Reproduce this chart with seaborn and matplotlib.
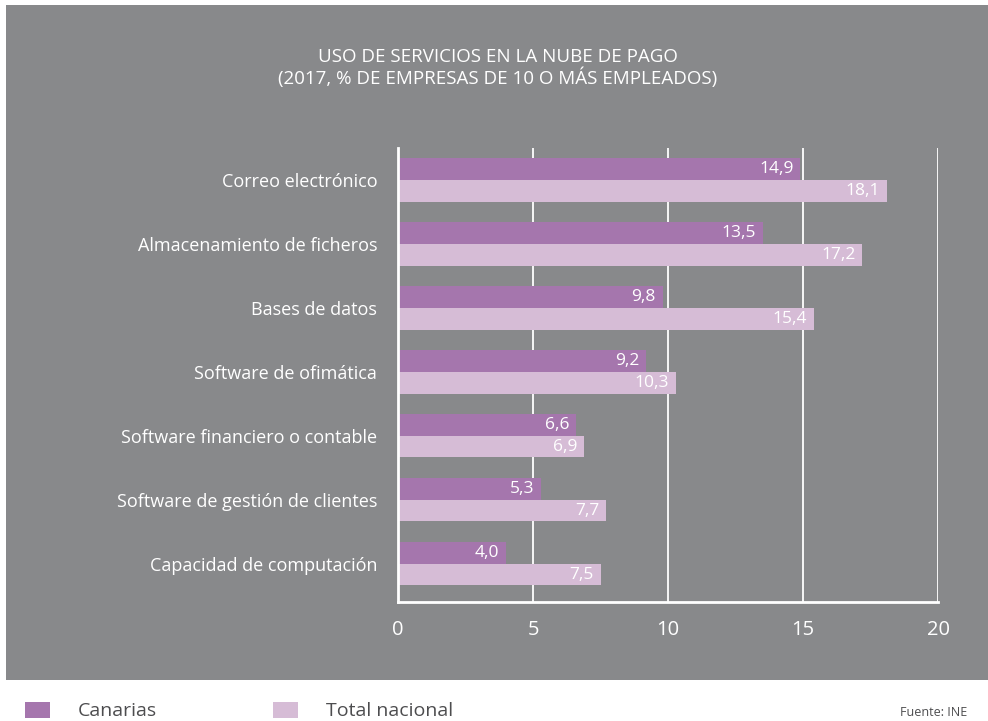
import matplotlib
matplotlib.use("Agg")
import matplotlib.pyplot as plt
from matplotlib.patches import Rectangle
import seaborn as sns
import pandas as pd

categories = [
    "Correo electrónico",
    "Almacenamiento de ficheros",
    "Bases de datos",
    "Software de ofimática",
    "Software financiero o contable",
    "Software de gestión de clientes",
    "Capacidad de computación",
]
canarias = [14.9, 13.5, 9.8, 9.2, 6.6, 5.3, 4.0]
total_nacional = [18.1, 17.2, 15.4, 10.3, 6.9, 7.7, 7.5]
series_names = ["Canarias", "Total nacional"]
x_ticks = [0, 5, 10, 15, 20]

title = "USO DE SERVICIOS EN LA NUBE DE PAGO\n(2017, % DE EMPRESAS DE 10 O MÁS EMPLEADOS)"
source = "Fuente: INE"

panel_gray = "#88898b"
col_canarias = "#a576ad"
col_total = "#d6bcd6"
legend_text = "#4d4d4f"

df = pd.DataFrame({
    "categoria": categories * 2,
    "serie": [series_names[0]] * len(categories) + [series_names[1]] * len(categories),
    "valor": canarias + total_nacional,
})

sns.set_theme(style="white")
plt.rcParams["font.family"] = ["Open Sans", "DejaVu Sans"]

fig = plt.figure(figsize=(9.88, 7.21), dpi=100)
fig.patch.set_facecolor("white")

# grey panel behind the chart
fig.patches.append(Rectangle((6 / 988, 1 - 680 / 721), 982 / 988, 675 / 721,
                             transform=fig.transFigure, facecolor=panel_gray,
                             edgecolor="none", zorder=-1))

ax = fig.add_axes([398 / 988, 1 - 602 / 721, 540 / 988, 454 / 721])
ax.set_facecolor("none")
ax.set_zorder(1)

sns.barplot(data=df, y="categoria", x="valor", hue="serie", orient="h",
            order=categories, hue_order=series_names,
            palette=[col_canarias, col_total], width=0.68, gap=0,
            saturation=1, legend=False, linewidth=0, edgecolor="none",
            ax=ax, zorder=3)

# value labels inside the end of each bar
for container in ax.containers:
    for bar in container:
        v = bar.get_width()
        y = bar.get_y() + bar.get_height() / 2
        ax.text(v - 0.25, y, f"{v:.1f}".replace(".", ","), ha="right",
                va="center", color="white", fontsize=12.5, zorder=4)

ax.set_xlim(0, 20)
ax.set_ylim(6.6, -0.5)
ax.set_xticks(x_ticks)
ax.set_xticklabels([str(t) for t in x_ticks])
ax.tick_params(axis="x", colors="white", labelsize=14.5, length=0, pad=13)
ax.tick_params(axis="y", colors="white", labelsize=13, length=0, pad=15)
for lbl in ax.get_xticklabels() + ax.get_yticklabels():
    lbl.set_color("white")
ax.set_xlabel("")
ax.set_ylabel("")

ax.grid(axis="x", color="white", linewidth=1.3, zorder=1)
ax.grid(axis="y", visible=False)
ax.set_axisbelow(True)
for side in ["top", "right"]:
    ax.spines[side].set_visible(False)
for side in ["left", "bottom"]:
    ax.spines[side].set_color("white")
    ax.spines[side].set_linewidth(2)
    ax.spines[side].set_zorder(5)

fig.text(498 / 988, 1 - 68 / 721, title, ha="center", va="center",
         color="white", fontsize=13.5, linespacing=1.1)

# legend along the bottom strip
for x0, name, col in [(25, series_names[0], col_canarias), (273, series_names[1], col_total)]:
    fig.patches.append(Rectangle((x0 / 988, 1 - 718 / 721), 25 / 988, 16 / 721,
                                 transform=fig.transFigure, facecolor=col,
                                 edgecolor="none"))
    fig.text((x0 + 53) / 988, 1 - 711 / 721, name, ha="left", va="center",
             color=legend_text, fontsize=14)

fig.text(900 / 988, 1 - 712 / 721, source, ha="left", va="center",
         color=legend_text, fontsize=9)

fig.savefig("out.png", dpi=100, facecolor=fig.get_facecolor())
